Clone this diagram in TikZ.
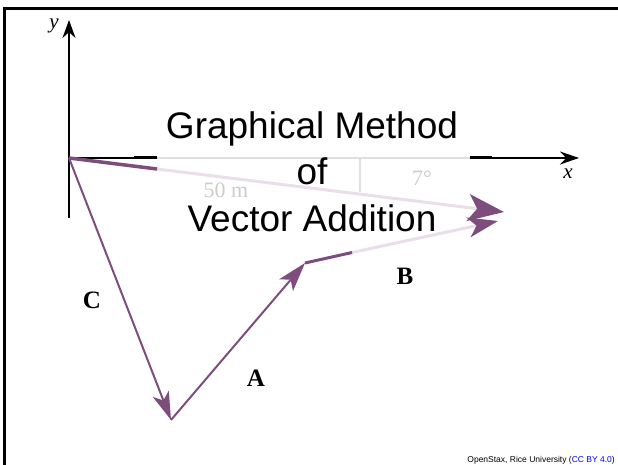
\documentclass[tikz,border=0pt]{standalone}
\usepackage{fontspec}
\setmainfont{Liberation Serif}
\setsansfont{Liberation Sans}
\usetikzlibrary{arrows.meta, positioning, calc}
\definecolor{vecpurple}{RGB}{125,78,125}

\begin{document}
\begin{tikzpicture}[x=1pt, y=-1pt,
        vec/.style={vecpurple, line width=2pt},
        fadedvec/.style={vecpurple!18, line width=3pt},
        axis/.style={black, line width=1.6pt},
        veclabel/.style={font=\fontsize{25}{30}\selectfont\bfseries},
        faint/.style={text=black!20, font=\fontsize{22}{26}\selectfont},
        titleline/.style={anchor=base, inner sep=0pt, font=\sffamily\fontsize{37}{44}\selectfont}]

        \useasboundingbox (0,0) rectangle (618,465);

        % Frame
        \draw[line width=2.5pt] (4.7,466) -- (4.7,8.3) -- (619,8.3);

        % Points
        \coordinate (O) at (69,158);
        \coordinate (P) at (171,420);
        \coordinate (Q) at (305,263);
        \coordinate (R) at (504,212);
        \coordinate (S) at (498,221);
        \coordinate (R1) at (157,169);
        \coordinate (S1) at (352,252.5);

        % Axes
        \coordinate (ybot) at (69,218);
        \coordinate (ytop) at (69,20);
        \coordinate (x1) at (134,158);
        \coordinate (x2) at (157,158);
        \coordinate (x3) at (470,158);
        \coordinate (x4) at (492,158);
        \coordinate (xend) at (579,158);
        \draw[axis, -{Stealth[length=18pt,width=13pt]}] (ybot) -- (ytop);
        \node[font=\itshape\fontsize{21}{24}\selectfont] (ylab) at (54,26) {y};
        \draw[axis] (O) -- (x1);
        \draw[black, line width=3pt] (x1) -- (x2);
        \draw[gray!25, line width=2pt] (x2) -- (x3);
        \draw[black, line width=3pt] (x3) -- (x4);
        \draw[axis, -{Stealth[length=19pt,width=13pt]}] (x4) -- (xend);
        \node[font=\itshape\fontsize{21}{24}\selectfont] (xlab) at (568,174) {x};

        % Angle mark and faded labels
        \coordinate (a1) at (360,158);
        \coordinate (a2) at (360,192);
        \draw[gray!25, line width=1.2pt] (a1) -- (a2);
        \node[faint] (ang) at (422,178) {7°};
        \node[faint, inner sep=0pt] (len) at (226,190) {50 m};

        % Resultant (faded)
        \draw[fadedvec, -{Stealth[length=36pt,width=27pt,inset=9pt,color=vecpurple]}] (R1) -- (R);
        \draw[vecpurple, line width=3.5pt] (O) -- (R1);

        % Vectors C, A, B
        \draw[vec, -{Stealth[length=28pt,width=17pt,inset=7pt]}] (O) -- (P);
        \draw[vec, -{Stealth[length=29pt,width=18pt,inset=7pt]}] (P) -- (Q);
        \draw[fadedvec, -{Stealth[length=30pt,width=20pt,inset=8pt,color=vecpurple]}] (S1) -- (S);
        \draw[vecpurple, line width=3pt] (Q) -- (S1);

        % Vector labels
        \node[veclabel] (labC) at (92,300) {C};
        \node[veclabel] (labA) at (256,378) {A};
        \node[veclabel] (labB) at (405,276) {B};

        % Title
        \node[titleline] (t1) at (312,139) {Graphical Method};
        \node[titleline] (t2) at (312,185) {of};
        \node[titleline] (t3) at (312,231) {Vector Addition};

        % Credit
        \node[anchor=base east, inner sep=0pt, font=\sffamily\fontsize{8.5}{10}\selectfont] (credit) at (615,462)
            {OpenStax, Rice University (\textcolor{blue}{CC BY 4.0})};

\end{tikzpicture}
\end{document}
